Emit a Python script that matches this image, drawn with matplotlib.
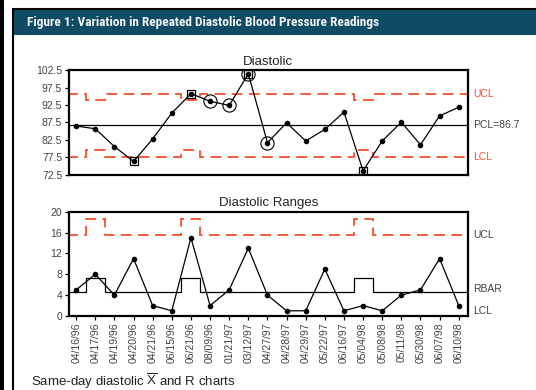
import numpy as np
import matplotlib
matplotlib.use('Agg')
import matplotlib.pyplot as plt
from matplotlib.patches import Rectangle

# data
dates = ['04/16/96', '04/17/96', '04/19/96', '04/20/96', '04/21/96', '06/15/96',
         '06/21/96', '08/09/96', '01/21/97', '03/12/97', '04/27/97', '04/28/97',
         '04/29/97', '05/22/97', '06/16/97', '05/04/98', '05/08/98', '05/11/98',
         '05/30/98', '06/07/98', '06/10/98']
xbar = [86.5, 85.7, 80.6, 76.3, 82.8, 90.2, 95.8, 93.6, 92.4, 101.5, 81.7,
        87.4, 82.2, 85.5, 90.5, 73.6, 82.2, 87.6, 81.1, 89.4, 91.9]
ranges = [5, 8, 4, 11, 2, 1, 15, 2, 5, 13, 4, 1, 1, 9, 1, 2, 1, 4, 5, 11, 2]
# larger subgroups get the narrower X limits / higher R limits
big_group = [0, 1, 0, 0, 0, 0, 1, 0, 0, 0, 0, 0, 0, 0, 0, 1, 0, 0, 0, 0, 0]
pcl = 86.7
x_ucl = {0: 95.6, 1: 93.9}
x_lcl = {0: 77.7, 1: 79.5}
r_ucl = {0: 15.6, 1: 18.6}
r_bar = {0: 4.6, 1: 7.2}
square_pts = [3, 6, 9, 15]
circle_pts = [7, 8, 9, 10]

RED = '#f0502c'
GREY = '#444444'
W, H = 536, 390

plt.rcParams['font.family'] = ['Liberation Sans', 'DejaVu Sans']
plt.rcParams['mathtext.default'] = 'regular'


def fig_rect(x0, y0, x1, y1):
    # pixel box (from top-left) -> figure fraction
    return (x0 / W, 1 - y1 / H, (x1 - x0) / W, (y1 - y0) / H)


def main():
    fig = plt.figure(figsize=(W / 100, H / 100), dpi=100)

    # page furniture
    x, y, w, h = fig_rect(0, 0, 4, H)
    fig.add_artist(Rectangle((x, y), w, h, transform=fig.transFigure, color='black', lw=0))
    x, y, w, h = fig_rect(13, 9, W + 5, H + 5)
    fig.add_artist(Rectangle((x, y), w, h, transform=fig.transFigure, fill=False,
                             edgecolor='black', lw=1.5))
    x, y, w, h = fig_rect(13.5, 9.5, W, 35)
    fig.add_artist(Rectangle((x, y), w, h, transform=fig.transFigure, color='#0f4b63', lw=0))
    title = fig.text(27 / W, 1 - 22.5 / H,
                     'Figure 1: Variation in Repeated Diastolic Blood Pressure Readings',
                     color='#f2f2f2', fontsize=10, fontweight='bold', va='center',
                     family=['Roboto Condensed', 'Roboto', 'DejaVu Sans'])
    # shrink the banner title to the width it has in the reference (~356 px)
    fig.canvas.draw()
    tw = title.get_window_extent().width
    title.set_fontsize(10 * 356 / tw)

    fig.text(31 / W, 1 - 381 / H, 'Same-day diastolic $\\overline{X}$ and R charts',
             color='#222222', fontsize=9.5, va='center')

    n = len(dates)
    xs = np.arange(n)
    edges = np.arange(n + 1) - 0.5

    # ---- X-bar chart
    ax1 = fig.add_axes(fig_rect(68.5, 70.3, 468.3, 174.7))
    ax1.stairs([x_ucl[g] for g in big_group], edges, baseline=None, color=RED, lw=1.3,
               linestyle=(0, (6, 3.5)))
    ax1.stairs([x_lcl[g] for g in big_group], edges, baseline=None, color=RED, lw=1.3,
               linestyle=(0, (6, 3.5)))
    ax1.axhline(pcl, color='black', lw=0.9)
    ax1.plot(xs, xbar, color='black', lw=0.9, marker='o', ms=3)
    ax1.plot([xs[i] for i in square_pts], [xbar[i] for i in square_pts], ls='none',
             marker='s', ms=6, mfc='none', mec='black', mew=0.9)
    ax1.plot([xs[i] for i in circle_pts], [xbar[i] for i in circle_pts], ls='none',
             marker='o', ms=9.5, mfc='none', mec='black', mew=0.8)
    ax1.set_xlim(-0.4, n - 0.5)
    ax1.set_ylim(72.5, 102.5)
    ax1.set_yticks(np.arange(72.5, 103, 5))
    ax1.set_yticklabels(['%.1f' % v for v in np.arange(72.5, 103, 5)])
    ax1.set_xticks([])
    ax1.set_title('Diastolic', fontsize=9.5, color='#222222', pad=4)
    tr1 = ax1.get_yaxis_transform()
    ax1.text(1.012, x_ucl[0], 'UCL', transform=tr1, color=RED, fontsize=7.5, va='center')
    ax1.text(1.012, pcl, 'PCL=86.7', transform=tr1, color=GREY, fontsize=7.5, va='center')
    ax1.text(1.012, x_lcl[0], 'LCL', transform=tr1, color=RED, fontsize=7.5, va='center')

    # ---- Range chart
    ax2 = fig.add_axes(fig_rect(68.5, 211.7, 468.3, 316))
    ax2.stairs([r_ucl[g] for g in big_group], edges, baseline=None, color=RED, lw=1.3,
               linestyle=(0, (6, 3.5)))
    ax2.stairs([r_bar[g] for g in big_group], edges, baseline=None, color='black', lw=0.9)
    ax2.plot(xs, ranges, color='black', lw=0.9, marker='o', ms=3, clip_on=False)
    ax2.set_xlim(-0.4, n - 0.5)
    ax2.set_ylim(0, 20)
    ax2.set_yticks([0, 4, 8, 12, 16, 20])
    ax2.set_xticks(xs)
    ax2.set_xticklabels(dates, rotation=90, fontsize=7.5)
    ax2.set_title('Diastolic Ranges', fontsize=9.5, color='#222222', pad=4)
    tr2 = ax2.get_yaxis_transform()
    ax2.text(1.012, r_ucl[0], 'UCL', transform=tr2, color=GREY, fontsize=7.5, va='center')
    ax2.text(1.012, 5.1, 'RBAR', transform=tr2, color=GREY, fontsize=7.5, va='center')
    ax2.text(1.012, 0.9, 'LCL', transform=tr2, color=GREY, fontsize=7.5, va='center')

    for ax in (ax1, ax2):
        for sp in ax.spines.values():
            sp.set_linewidth(1.6)
        ax.tick_params(axis='both', direction='out', length=3, width=0.9,
                       labelsize=7.5, labelcolor=GREY, pad=1.5)

    fig.savefig('out.png', dpi=100)


if __name__ == '__main__':
    main()
